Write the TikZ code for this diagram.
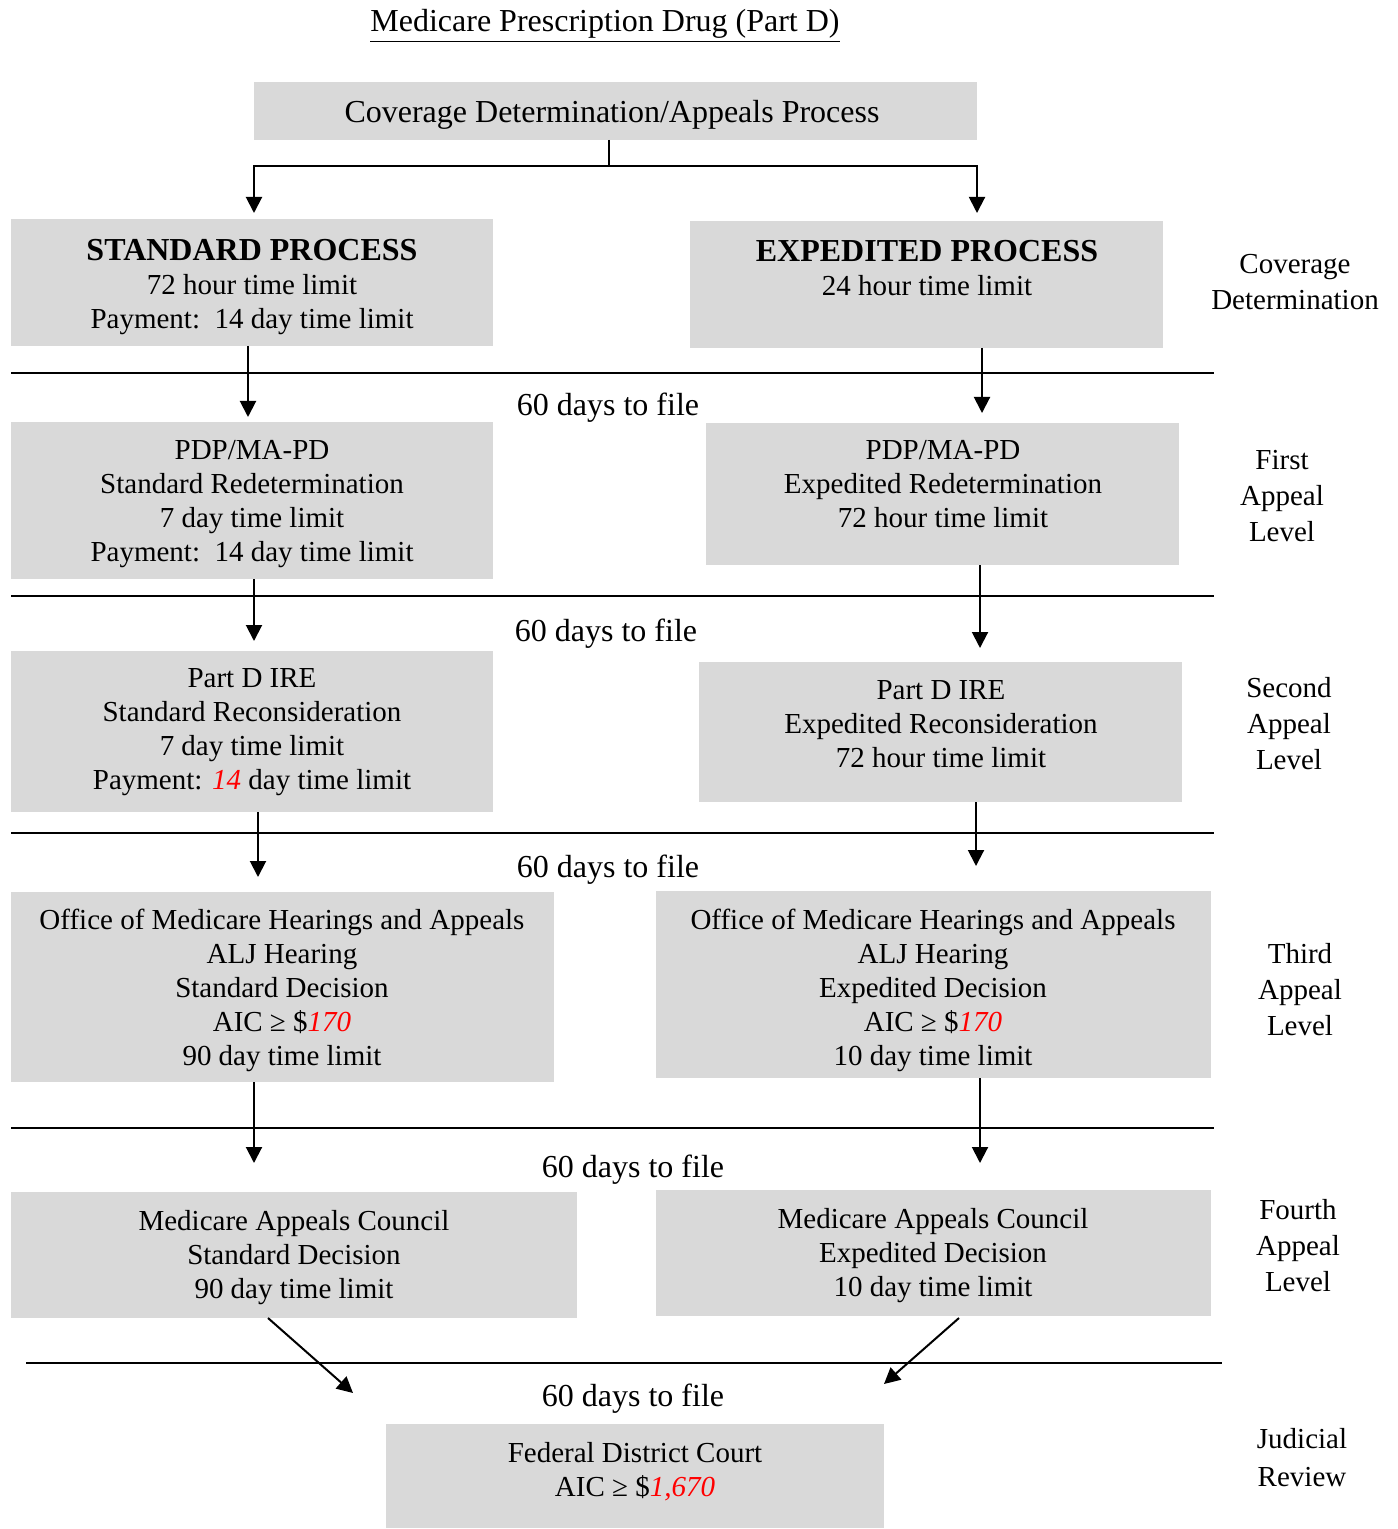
\documentclass[tikz,border=0pt]{standalone}
\usepackage{fontspec}
\setmainfont{Liberation Serif}
\usetikzlibrary{arrows.meta,calc}
\definecolor{boxgray}{HTML}{D9D9D9}
\newcommand{\rd}[1]{\textcolor{red}{\textit{#1}}}
\begin{document}
\begin{tikzpicture}[x=0.5pt,y=-0.5pt,
  box/.style={fill=boxgray,inner sep=0pt,outer sep=0pt},
  txt/.style={align=center,font=\fontsize{14.5}{17}\selectfont,inner sep=0pt,yshift=-1.75pt},
  bigtxt/.style={align=center,font=\fontsize{16}{18}\selectfont,inner sep=0pt,yshift=-1.9pt},
  side/.style={align=center,font=\fontsize{14.5}{18}\selectfont,inner sep=0pt},
  ln/.style={line width=1pt},
  arr/.style={line width=1pt,-{Triangle[width=8pt,length=8pt]}}]
\useasboundingbox (0,0) rectangle (1397,1529);

% title
\node[bigtxt] (title) at (605,22) {\underline{Medicare Prescription Drug (Part D)}};

% boxes
\node[box,minimum width=361.5pt,minimum height=29pt] (top) at (615.5,111) {};
\node[box,minimum width=241pt,minimum height=63.5pt] (sp) at (252,282.5) {};
\node[box,minimum width=236.5pt,minimum height=63.5pt] (ep) at (926.5,284.5) {};
\node[box,minimum width=241pt,minimum height=78.5pt] (r1s) at (252,500.5) {};
\node[box,minimum width=236.5pt,minimum height=71pt] (r1e) at (942.5,494) {};
\node[box,minimum width=241pt,minimum height=80.5pt] (r2s) at (252,731.5) {};
\node[box,minimum width=241.5pt,minimum height=70pt] (r2e) at (940.5,732) {};
\node[box,minimum width=271.5pt,minimum height=95pt] (r3s) at (282.5,987) {};
\node[box,minimum width=277.5pt,minimum height=93.5pt] (r3e) at (933.5,984.5) {};
\node[box,minimum width=283pt,minimum height=63pt] (r4s) at (294,1255) {};
\node[box,minimum width=277.5pt,minimum height=63pt] (r4e) at (933.5,1253) {};
\node[box,minimum width=249pt,minimum height=52pt] (fdc) at (635,1476) {};

% box texts
\node[bigtxt] (topt) at (612,111) {Coverage Determination/Appeals Process};
\node[txt] (spt) at (252,284) {{\fontsize{16}{18}\selectfont\bfseries STANDARD PROCESS}\\72 hour time limit\\Payment:\ \ 14 day time limit};
\node[txt] (ept) at (927,264.5) {{\fontsize{16}{18}\selectfont\bfseries EXPEDITED PROCESS}\\24 hour time limit};
\node[txt] (r1st) at (252,500.5) {PDP/MA-PD\\Standard Redetermination\\7 day time limit\\Payment:\ \ 14 day time limit};
\node[txt] (r1et) at (943,481) {PDP/MA-PD\\Expedited Redetermination\\72 hour time limit};
\node[txt] (r2st) at (252,728.5) {Part D IRE\\Standard Reconsideration\\7 day time limit\\Payment: \rd{14} day time limit};
\node[txt] (r2et) at (941,720.5) {Part D IRE\\Expedited Reconsideration\\72 hour time limit};
\node[txt] (r3st) at (282,986.5) {Office of Medicare Hearings and Appeals\\ALJ Hearing\\Standard Decision\\AIC ≥ \$\rd{170}\\90 day time limit};
\node[txt] (r3et) at (933,986.5) {Office of Medicare Hearings and Appeals\\ALJ Hearing\\Expedited Decision\\AIC ≥ \$\rd{170}\\10 day time limit};
\node[txt] (r4st) at (294,1254) {Medicare Appeals Council\\Standard Decision\\90 day time limit};
\node[txt] (r4et) at (933,1252) {Medicare Appeals Council\\Expedited Decision\\10 day time limit};
\node[txt] (fdct) at (635,1468) {Federal District Court\\AIC ≥ \$\rd{1,670}};

% side labels
\node[side] (l0) at (1295,282) {Coverage\\Determination};
\node[side] (l1) at (1282,496) {First\\Appeal\\Level};
\node[side] (l2) at (1289,724) {Second\\Appeal\\Level};
\node[side] (l3) at (1300,990) {Third\\Appeal\\Level};
\node[side] (l4) at (1298,1246) {Fourth\\Appeal\\Level};
\node[align=center,font=\fontsize{14.5}{19}\selectfont,inner sep=0pt] (l5) at (1302,1458) {Judicial\\Review};

% separator lines
\draw[ln] (11,373) -- (1214,373);
\draw[ln] (11,596) -- (1214,596);
\draw[ln] (11,833) -- (1214,833);
\draw[ln] (11,1128) -- (1214,1128);
\draw[ln] (26,1363) -- (1222,1363);

% 60 days labels
\node[bigtxt] (d1) at (608,404) {60 days to file};
\node[bigtxt] (d2) at (606,630) {60 days to file};
\node[bigtxt] (d3) at (608,866) {60 days to file};
\node[bigtxt] (d4) at (633,1166) {60 days to file};
\node[bigtxt] (d5) at (633,1395) {60 days to file};

% connectors
\coordinate (split) at (609,166);
\draw[ln] ($(top.south)+(-6.5,0)$) -- (split);
\draw[arr] (split) -| ($(sp.north)+(2,-6)$);
\draw[arr] (split) -| ($(ep.north)+(50.5,-8)$);

\draw[arr] ($(sp.south)+(-4,0)$) -- ($(r1s.north)+(-4,-5)$);
\draw[arr] ($(ep.south)+(55.5,0)$) -- ($(r1e.north)+(39.5,-10)$);
\draw[arr] ($(r1s.south)+(2,0)$) -- ($(r2s.north)+(2,-10)$);
\draw[arr] ($(r1e.south)+(37.5,0)$) -- ($(r2e.north)+(39.5,-14)$);
\draw[arr] ($(r2s.south)+(6,0)$) -- ($(r3s.north)+(-24.5,-15)$);
\draw[arr] ($(r2e.south)+(35.5,0)$) -- ($(r3e.north)+(42.5,-25)$);
\draw[arr] ($(r3s.south)+(-28.5,0)$) -- ($(r4s.north)+(-40,-29)$);
\draw[arr] ($(r3e.south)+(46.5,0)$) -- ($(r4e.north)+(46.5,-27)$);

\coordinate (jl) at (353,1393);
\coordinate (jr) at (884,1384);
\draw[arr] ($(r4s.south)+(-26,0)$) -- (jl);
\draw[arr] ($(r4e.south)+(25.5,2)$) -- (jr);
\end{tikzpicture}
\end{document}
